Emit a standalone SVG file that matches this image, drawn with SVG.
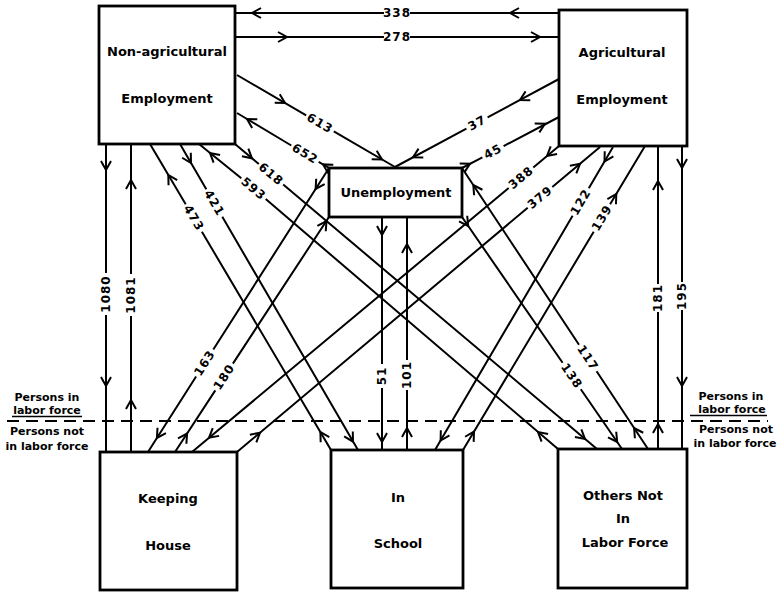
<svg xmlns="http://www.w3.org/2000/svg" width="779" height="592" viewBox="0 0 779 592">
<style>
.box{fill:#fff;stroke:#000;stroke-width:2.8}
.ln{stroke:#000;stroke-width:2;fill:none}
.ah{stroke:#000;stroke-width:2;fill:none;stroke-linejoin:miter}
.t{font-family:"DejaVu Sans","Liberation Sans",sans-serif;font-weight:bold;font-size:13px;fill:#000;text-anchor:middle}
.n{font-family:"DejaVu Sans","Liberation Sans",sans-serif;font-weight:bold;font-size:12px;letter-spacing:1px;fill:#000;text-anchor:middle;dominant-baseline:central}
.s{font-family:"DejaVu Sans","Liberation Sans",sans-serif;font-weight:bold;font-size:11px;fill:#000;text-anchor:middle}
.dash{stroke:#000;stroke-width:1.8;stroke-dasharray:12 7;fill:none}
</style>
<defs>
<path id="ah" class="ah" d="M-9,-5L0,0L-9,5"/>
</defs>
<rect width="779" height="592" fill="#fff"/>

<g id="labor-force-divider">
<line class="dash" x1="7" y1="421" x2="768" y2="421"/>
<line class="ln" x1="12" y1="416.5" x2="82" y2="416.5" style="stroke-width:1.5"/>
<line class="ln" x1="690" y1="415.5" x2="767" y2="415.5" style="stroke-width:1.5"/>
<text class="s" x="47" y="401">Persons in</text>
<text class="s" x="47" y="414">labor force</text>
<text class="s" x="47" y="435">Persons not</text>
<text class="s" x="47" y="450">in labor force</text>
<text class="s" x="731" y="400">Persons in</text>
<text class="s" x="732" y="413">labor force</text>
<text class="s" x="736" y="433">Persons not</text>
<text class="s" x="735" y="447">in labor force</text>
</g>

<g id="connectors">
<g id="c338"><path class="ln" d="M559,13L410,13M384,13L235,13"/><use href="#ah" transform="translate(252,13) rotate(180)"/><use href="#ah" transform="translate(510,13) rotate(180)"/><text class="n" transform="translate(397,13)">338</text></g>
<g id="c278"><path class="ln" d="M235,37L384,37M410,37L559,37"/><use href="#ah" transform="translate(287,37)"/><use href="#ah" transform="translate(540,37)"/><text class="n" transform="translate(397,37)">278</text></g>
<g id="c613"><path class="ln" d="M237,75L306.2,115.3M333.8,131.4L395,167"/><use href="#ah" transform="translate(285,103) rotate(30.2)"/><use href="#ah" transform="translate(382,159.5) rotate(30.2)"/><text class="n" transform="translate(320,123.3) rotate(30.2)">613</text></g>
<g id="c37"><path class="ln" d="M559,79L487.6,117.3M466.4,128.7L395,167"/><use href="#ah" transform="translate(520,100) rotate(151.8)"/><use href="#ah" transform="translate(413,157.3) rotate(151.8)"/><text class="n" transform="translate(477,123) rotate(-28.2)">37</text></g>
<g id="c652"><path class="ln" d="M329,168L318.7,161.9M291.3,145.5L237,113"/><use href="#ah" transform="translate(247,119) rotate(211)"/><use href="#ah" transform="translate(323,164.4) rotate(211)"/><text class="n" transform="translate(305,153.7) rotate(30.9)">652</text></g>
<g id="c45"><path class="ln" d="M462,168L482.4,157.3M503.6,146.1L559,117"/><use href="#ah" transform="translate(470,163.8) rotate(-27.7)"/><use href="#ah" transform="translate(545,123.8) rotate(-27.7)"/><text class="n" transform="translate(493,151.7) rotate(-27.7)">45</text></g>
<g id="c618"><path class="ln" d="M235,144L258.8,164M283.2,184.6L597,449"/><use href="#ah" transform="translate(252,158.3) rotate(40.1)"/><use href="#ah" transform="translate(585,438.9) rotate(40.1)"/><text class="n" transform="translate(271,174.3) rotate(40.1)">618</text></g>
<g id="c593"><path class="ln" d="M558,449L265.7,199.1M241.3,178.3L199,144"/><use href="#ah" transform="translate(538,432) rotate(220.5)"/><use href="#ah" transform="translate(210,153) rotate(220.5)"/><text class="n" transform="translate(253.5,188.7) rotate(40.5)">593</text></g>
<g id="c421"><path class="ln" d="M180,144L206.3,189.2M222.3,216.8L358,450"/><use href="#ah" transform="translate(191,163) rotate(59.8)"/><use href="#ah" transform="translate(353,441.7) rotate(59.8)"/><text class="n" transform="translate(214.3,203) rotate(59.8)">421</text></g>
<g id="c473"><path class="ln" d="M331,450L201.9,231.8M185.7,204.2L150,144"/><use href="#ah" transform="translate(320.4,432) rotate(239.4)"/><use href="#ah" transform="translate(168.3,175) rotate(239.4)"/><text class="n" transform="translate(193.8,218) rotate(59.4)">473</text></g>
<g id="c163"><path class="ln" d="M329,168L213.3,349.5M196.1,376.5L148,452"/><use href="#ah" transform="translate(315.6,189) rotate(122.5)"/><use href="#ah" transform="translate(156.9,438) rotate(122.5)"/><text class="n" transform="translate(204.7,363) rotate(-57.5)">163</text></g>
<g id="c180"><path class="ln" d="M175,452L215.3,390.4M232.9,363.6L329,217"/><use href="#ah" transform="translate(187.1,433.5) rotate(-56.8)"/><use href="#ah" transform="translate(326.5,221) rotate(-56.8)"/><text class="n" transform="translate(224.1,377) rotate(-56.8)">180</text></g>
<g id="c388"><path class="ln" d="M559,146L533.3,167.5M508.7,187.9L192,452"/><use href="#ah" transform="translate(547,156) rotate(140.2)"/><use href="#ah" transform="translate(209,437.8) rotate(140.2)"/><text class="n" transform="translate(521,177.7) rotate(-39.8)">388</text></g>
<g id="c379"><path class="ln" d="M237,452L527.7,207.7M552.3,187.1L600,147"/><use href="#ah" transform="translate(260,432.7) rotate(-40)"/><use href="#ah" transform="translate(580,163.8) rotate(-40)"/><text class="n" transform="translate(540,197.4) rotate(-40)">379</text></g>
<g id="c122"><path class="ln" d="M613,147L588.8,188.2M572.6,215.8L435,450"/><use href="#ah" transform="translate(604.5,161.5) rotate(120.4)"/><use href="#ah" transform="translate(440.6,440.5) rotate(120.4)"/><text class="n" transform="translate(580.7,202) rotate(-59.6)">122</text></g>
<g id="c139"><path class="ln" d="M463,450L593.7,231.7M610.1,204.3L645,146"/><use href="#ah" transform="translate(474,431.6) rotate(-59.1)"/><use href="#ah" transform="translate(616.3,194) rotate(-59.1)"/><text class="n" transform="translate(601.9,218) rotate(-59.1)">139</text></g>
<g id="c117"><path class="ln" d="M648,449L596.6,371.3M579,344.7L462,168"/><use href="#ah" transform="translate(634.1,428) rotate(236.5)"/><use href="#ah" transform="translate(473.3,185) rotate(236.5)"/><text class="n" transform="translate(587.8,358) rotate(56.5)">117</text></g>
<g id="c138"><path class="ln" d="M462,217L562.6,362.8M580.8,389.2L622,449"/><use href="#ah" transform="translate(468.2,226) rotate(55.4)"/><use href="#ah" transform="translate(617.2,442) rotate(55.4)"/><text class="n" transform="translate(571.7,376) rotate(55.4)">138</text></g>
<g id="c1080"><path class="ln" d="M106,144L106,273M106,315L106,452"/><use href="#ah" transform="translate(106,170) rotate(90)"/><use href="#ah" transform="translate(106,386) rotate(90)"/><text class="n" transform="translate(106,294) rotate(-90)">1080</text></g>
<g id="c1081"><path class="ln" d="M131,452L131,316M131,274L131,144"/><use href="#ah" transform="translate(131,400) rotate(-90)"/><use href="#ah" transform="translate(131,180) rotate(-90)"/><text class="n" transform="translate(131,295) rotate(-90)">1081</text></g>
<g id="c51"><path class="ln" d="M382,217L382,364M382,388L382,450"/><use href="#ah" transform="translate(382,235) rotate(90)"/><use href="#ah" transform="translate(382,442) rotate(90)"/><text class="n" transform="translate(382,376) rotate(-90)">51</text></g>
<g id="c101"><path class="ln" d="M407,450L407,390M407,360L407,217"/><use href="#ah" transform="translate(407,428) rotate(-90)"/><use href="#ah" transform="translate(407,244) rotate(-90)"/><text class="n" transform="translate(407,375) rotate(-90)">101</text></g>
<g id="c181"><path class="ln" d="M658,449L658,312M658,284L658,146"/><use href="#ah" transform="translate(658,424) rotate(-90)"/><use href="#ah" transform="translate(658,181) rotate(-90)"/><text class="n" transform="translate(658,298) rotate(-90)">181</text></g>
<g id="c195"><path class="ln" d="M682,146L682,282M682,310L682,449"/><use href="#ah" transform="translate(682,168) rotate(90)"/><use href="#ah" transform="translate(682,386) rotate(90)"/><text class="n" transform="translate(682,296) rotate(-90)">195</text></g>
</g>

<g id="non-agricultural-employment">
<rect class="box" x="99" y="6" width="136" height="138"/>
<text class="t" x="167" y="56">Non-agricultural</text>
<text class="t" x="167" y="103">Employment</text>
</g>
<g id="agricultural-employment">
<rect class="box" x="559" y="10" width="128" height="136"/>
<text class="t" x="622" y="57">Agricultural</text>
<text class="t" x="622" y="104">Employment</text>
</g>
<g id="unemployment">
<rect class="box" x="329" y="168" width="133" height="49"/>
<text class="t" x="396" y="197">Unemployment</text>
</g>
<g id="keeping-house">
<rect class="box" x="100" y="452" width="137" height="138"/>
<text class="t" x="168" y="503">Keeping</text>
<text class="t" x="168" y="550">House</text>
</g>
<g id="in-school">
<rect class="box" x="331" y="450" width="132" height="138"/>
<text class="t" x="398" y="502">In</text>
<text class="t" x="398" y="548">School</text>
</g>
<g id="others-not-in-labor-force">
<rect class="box" x="558" y="449" width="129" height="139"/>
<text class="t" x="623" y="500">Others Not</text>
<text class="t" x="623" y="523">In</text>
<text class="t" x="625" y="547">Labor Force</text>
</g>
</svg>
